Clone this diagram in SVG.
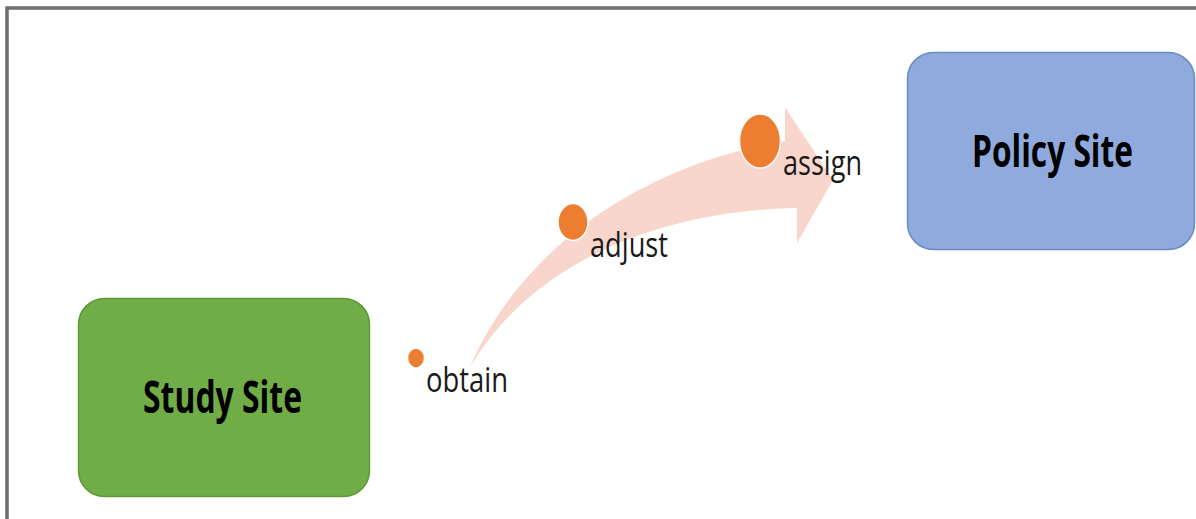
<svg xmlns="http://www.w3.org/2000/svg" width="1196" height="519" viewBox="0 0 1196 519">
<style>
.box{stroke-width:1.5}
.title{font-family:"Open Sans","Liberation Sans",sans-serif;font-weight:bold;font-size:44px;fill:#000}
.lbl{font-family:"Open Sans","Liberation Sans",sans-serif;font-size:35px;fill:#1a1a1a}
.dot{fill:#ED7D31;stroke:#fff;stroke-width:1.5}
</style>
<rect width="1196" height="519" fill="#fff"/>
<path d="M7 519 V8 H1196" fill="none" stroke="#6e6e6e" stroke-width="3.5"/>
<g id="connectors">
<path d="M470 367 C520 250 640 165 785 141 L785 107 L833 180 L797 243 L797 208 C680 210 540 250 470 367 Z" fill="#F8D6CB"/>
</g>
<g id="study-site">
<rect class="box" x="78.5" y="298.5" width="291" height="198" rx="26" fill="#70AD47" stroke="#5F9838"/>
<text class="title" x="143" y="413" textLength="159" lengthAdjust="spacingAndGlyphs">Study Site</text>
</g>
<g id="policy-site">
<rect class="box" x="907.5" y="52.5" width="287" height="197" rx="26" fill="#8FAADC" stroke="#6A8BC4"/>
<text class="title" x="972" y="167" textLength="161" lengthAdjust="spacingAndGlyphs">Policy Site</text>
</g>
<g id="obtain">
<ellipse class="dot" cx="416" cy="358" rx="8.5" ry="10"/>
<text class="lbl" x="426" y="392" textLength="82" lengthAdjust="spacingAndGlyphs">obtain</text>
</g>
<g id="adjust">
<ellipse class="dot" cx="573" cy="222" rx="15" ry="18.5"/>
<text class="lbl" x="590" y="257" textLength="78" lengthAdjust="spacingAndGlyphs">adjust</text>
</g>
<g id="assign">
<ellipse class="dot" cx="760" cy="141" rx="20.5" ry="27"/>
<text class="lbl" x="783" y="175" textLength="79" lengthAdjust="spacingAndGlyphs">assign</text>
</g>
</svg>
